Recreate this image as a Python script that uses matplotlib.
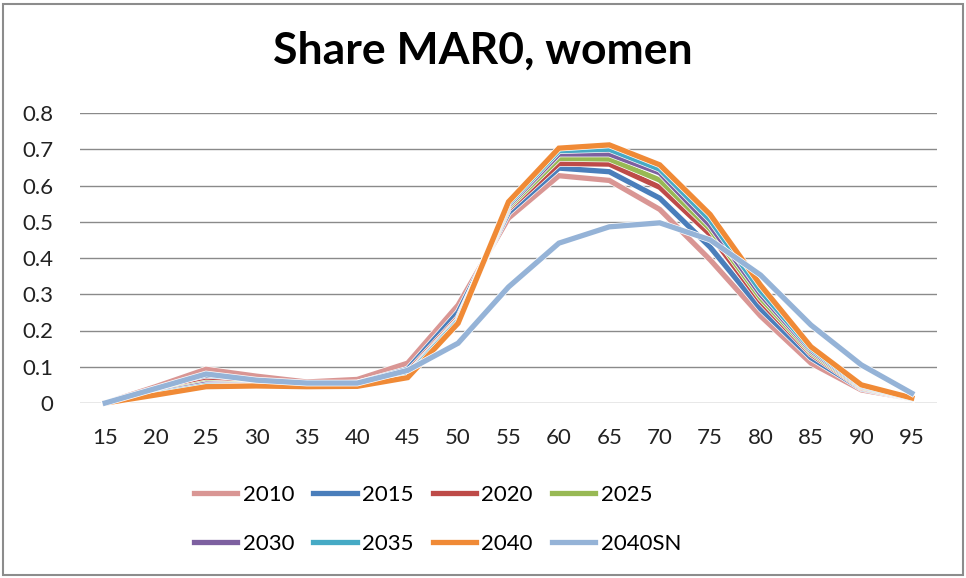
import matplotlib
matplotlib.use("Agg")
import matplotlib.pyplot as plt
import matplotlib.patheffects as pe
from matplotlib.patches import Rectangle

# ages on the x axis
ages = ["15", "20", "25", "30", "35", "40", "45", "50", "55",
        "60", "65", "70", "75", "80", "85", "90", "95"]

# share MAR0 per projection year
s2010 = [0, 0.045, 0.093, 0.074, 0.058, 0.065, 0.11, 0.27, 0.51, 0.627, 0.614, 0.534, 0.395, 0.24, 0.11, 0.036, 0.012]
s2015 = [0, 0.035, 0.072, 0.058, 0.052, 0.055, 0.093, 0.25, 0.525, 0.648, 0.638, 0.565, 0.43, 0.26, 0.125, 0.04, 0.012]
s2020 = [0, 0.03, 0.06, 0.052, 0.05, 0.052, 0.085, 0.235, 0.535, 0.661, 0.659, 0.595, 0.465, 0.28, 0.135, 0.042, 0.012]
s2025 = [0, 0.028, 0.055, 0.05, 0.049, 0.05, 0.08, 0.23, 0.54, 0.675, 0.673, 0.615, 0.48, 0.29, 0.14, 0.044, 0.013]
s2030 = [0, 0.026, 0.052, 0.049, 0.048, 0.049, 0.078, 0.228, 0.545, 0.687, 0.687, 0.635, 0.49, 0.30, 0.145, 0.046, 0.013]
s2035 = [0, 0.024, 0.048, 0.048, 0.047, 0.048, 0.075, 0.225, 0.55, 0.696, 0.70, 0.645, 0.505, 0.31, 0.15, 0.048, 0.013]
s2040 = [0, 0.022, 0.045, 0.047, 0.045, 0.046, 0.07, 0.22, 0.555, 0.703, 0.712, 0.657, 0.52, 0.325, 0.155, 0.05, 0.014]
s2040sn = [0, 0.04, 0.08, 0.063, 0.055, 0.055, 0.09, 0.165, 0.32, 0.441, 0.486, 0.497, 0.45, 0.353, 0.215, 0.105, 0.027]

labels = ["2010", "2015", "2020", "2025", "2030", "2035", "2040", "2040SN"]
series = [s2010, s2015, s2020, s2025, s2030, s2035, s2040, s2040sn]
colors = ["#D99694", "#4A7EBB", "#BE4B48", "#98B954",
          "#7D60A0", "#46AAC5", "#F08A36", "#95B3D7"]

plt.rcParams['font.family'] = ['Lato', 'DejaVu Sans']

fig = plt.figure(figsize=(9.66, 5.78), dpi=100)
ax = fig.add_axes([80 / 966, 1 - 403 / 578, (937 - 80) / 966, (403 - 113) / 578])

x = list(range(len(ages)))
handles = []
for vals, lab, col in zip(series, labels, colors):
    h, = ax.plot(x, vals, color=col, lw=3.8, label=lab, solid_joinstyle='miter',
                 path_effects=[pe.Stroke(linewidth=4.8, foreground='white'), pe.Normal()])
    handles.append(h)

ax.set_xlim(-0.5, len(ages) - 0.5)
ax.set_ylim(0, 0.8)
ax.set_xticks(x)
ax.set_xticklabels(ages)
ax.set_yticks([0, 0.1, 0.2, 0.3, 0.4, 0.5, 0.6, 0.7, 0.8])
ax.set_yticklabels(["0", "0.1", "0.2", "0.3", "0.4", "0.5", "0.6", "0.7", "0.8"])
ax.tick_params(length=0, labelsize=16, colors='#222222')
ax.tick_params(axis='y', pad=19)
ax.tick_params(axis='x', pad=18)
ax.grid(axis='y', color='#8a8a8a', lw=1)
ax.set_axisbelow(True)
for sp in ax.spines.values():
    sp.set_visible(False)
for ln in ax.get_lines():
    ln.set_clip_on(False)

fig.text(483 / 966, 1 - 51 / 578, "Share MAR0, women", ha='center', va='center',
         fontsize=32, fontweight='bold', color='black')

# excel fills the legend row by row, matplotlib column by column
order = [0, 4, 1, 5, 2, 6, 3, 7]
leg_h = [handles[i] for i in order]
leg_l = [labels[i] for i in order]
fig.legend(leg_h, leg_l, loc='upper left', bbox_to_anchor=(194 / 966, 1 - 485 / 578),
           ncol=4, frameon=False, borderpad=0, borderaxespad=0,
           fontsize=16, handlelength=1.95, handletextpad=0.25, columnspacing=0.85,
           labelspacing=1.3)

# outer chart border
fig.patches.append(Rectangle((3 / 966, 3 / 578), 960 / 966, 571 / 578, transform=fig.transFigure,
                             fill=False, edgecolor='#8c8c8c', lw=1.5))

fig.savefig("out.png", dpi=100)
